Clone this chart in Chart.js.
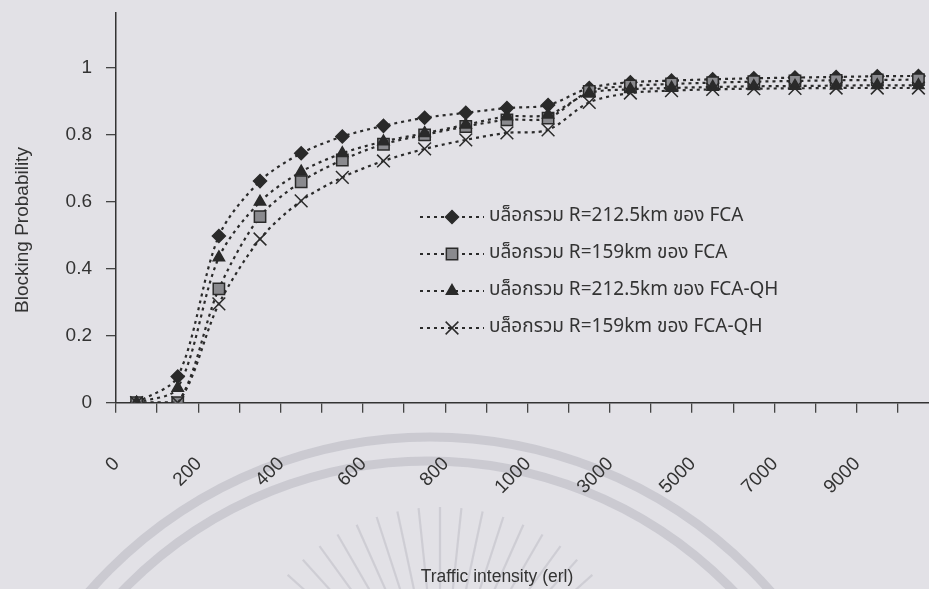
<!DOCTYPE html>
<html>
<head>
<meta charset="utf-8">
<script src="https://cdn.jsdelivr.net/npm/chart.js@4.4.1/dist/chart.umd.min.js"></script>
<style>
  html,body{margin:0;padding:0;background:#e2e1e6;overflow:hidden;}
  #wrap{position:relative;width:950px;height:589px;}
</style>
</head>
<body>
<div id="wrap"><canvas id="blockChart"></canvas></div>
<script>
// traffic load categories (erl) and the ones that get a label
const categories = ['0','100','200','300','400','500','600','700','800','900','1000',
  '2000','3000','4000','5000','6000','7000','8000','9000','10000'];
const shownTicks = ['0','200','400','600','800','1000','3000','5000','7000','9000'];

// blocking probability per scheme
const fca212 = [0, 0.078, 0.498, 0.662, 0.745, 0.795, 0.827, 0.851, 0.866, 0.880, 0.889,
  0.940, 0.957, 0.962, 0.966, 0.969, 0.971, 0.973, 0.975, 0.976];
const fca159 = [0, 0, 0.340, 0.556, 0.660, 0.725, 0.772, 0.800, 0.825, 0.845, 0.850,
  0.930, 0.946, 0.952, 0.956, 0.959, 0.961, 0.963, 0.964, 0.965];
const qh212 = [0, 0.044, 0.434, 0.600, 0.690, 0.745, 0.780, 0.805, 0.830, 0.855, 0.860,
  0.925, 0.936, 0.940, 0.943, 0.945, 0.946, 0.947, 0.948, 0.948];
const qh159 = [0, 0, 0.295, 0.489, 0.603, 0.673, 0.722, 0.758, 0.785, 0.806, 0.815,
  0.897, 0.925, 0.932, 0.936, 0.938, 0.939, 0.940, 0.940, 0.940];

const seriesNames = [
  'บล็อกรวม R=212.5km ของ FCA',
  'บล็อกรวม R=159km ของ FCA',
  'บล็อกรวม R=212.5km ของ FCA-QH',
  'บล็อกรวม R=159km ของ FCA-QH'
];

const BG = '#e2e1e6';
const INK = '#2a2a2a';
const TXT = '#333';
const FONT = '"Liberation Sans", Arial, sans-serif';

function series(label, data, style, radius, fill, order){
  return {
    label, data, order,
    borderColor: INK, borderWidth: 2.2, borderDash: [3,4],
    tension: 0.3, fill: false,
    pointStyle: style, pointRadius: radius, pointHoverRadius: radius,
    pointBackgroundColor: fill, pointBorderColor: INK, pointBorderWidth: 1.5
  };
}

// faint seal printed behind the figure
const seal = {
  id: 'seal',
  beforeDraw(chart){
    const ctx = chart.ctx;
    ctx.save();
    ctx.fillStyle = BG;
    ctx.fillRect(0, 0, chart.width, chart.height);
    ctx.strokeStyle = 'rgba(150,150,162,0.30)';
    ctx.lineWidth = 9;
    ctx.beginPath(); ctx.arc(430, 890, 453, Math.PI, Math.PI*2); ctx.stroke();
    ctx.beginPath(); ctx.arc(428, 885, 424, Math.PI, Math.PI*2); ctx.stroke();
    ctx.lineWidth = 2.2;
    ctx.strokeStyle = 'rgba(150,150,162,0.26)';
    for (let a = -156; a <= -24; a += 6) {
      const r = a * Math.PI / 180;
      ctx.beginPath();
      ctx.moveTo(440 + Math.cos(r)*100, 712 + Math.sin(r)*100);
      ctx.lineTo(440 + Math.cos(r)*205, 712 + Math.sin(r)*205);
      ctx.stroke();
    }
    ctx.restore();
  }
};

// axis titles, placed by hand
const axisTitles = {
  id: 'axisTitles',
  afterDraw(chart){
    const ctx = chart.ctx;
    ctx.save();
    ctx.fillStyle = TXT;
    ctx.textAlign = 'center';
    ctx.textBaseline = 'middle';
    ctx.font = '17.5px ' + FONT;
    ctx.fillText('Traffic intensity (erl)', 497, 577);
    ctx.translate(23, 230);
    ctx.rotate(-Math.PI / 2);
    ctx.font = '19px ' + FONT;
    ctx.fillText('Blocking Probability', 0, 0);
    ctx.restore();
  }
};

// legend drawn inside the plot, line sample + marker + label
const inlineLegend = {
  id: 'inlineLegend',
  afterDatasetsDraw(chart){
    const ctx = chart.ctx;
    const rows = [217, 254, 291, 328];
    ctx.save();
    chart.data.datasets.forEach((ds, i) => {
      const y = rows[i];
      ctx.strokeStyle = INK;
      ctx.lineWidth = 2.2;
      ctx.setLineDash([3,4]);
      ctx.beginPath(); ctx.moveTo(420, y); ctx.lineTo(484, y); ctx.stroke();
      ctx.setLineDash([]);
      ctx.fillStyle = ds.pointBackgroundColor;
      ctx.strokeStyle = INK;
      ctx.lineWidth = 1.5;
      Chart.helpers.drawPoint(ctx, {pointStyle: ds.pointStyle, radius: ds.pointRadius, borderWidth: 1.5}, 452, y);
      ctx.fillStyle = TXT;
      ctx.font = '19px "Noto Sans Thai", "Liberation Sans", sans-serif';
      ctx.textBaseline = 'middle';
      ctx.fillText(ds.label, 489, y);
    });
    ctx.restore();
  }
};

new Chart(document.getElementById('blockChart'), {
  type: 'line',
  data: {
    labels: categories,
    datasets: [
      series(seriesNames[0], fca212, 'rectRot', 6.5, INK, 3),
      series(seriesNames[1], fca159, 'rect', 8, '#8a8a8e', 2),
      series(seriesNames[2], qh212, 'triangle', 6.5, INK, 1),
      series(seriesNames[3], qh159, 'crossRot', 9, INK, 0)
    ]
  },
  options: {
    responsive: true, maintainAspectRatio: false, animation: false,
    layout: {padding: {top: 13, right: 11, left: 0, bottom: 0}},
    plugins: {legend: {display: false}, tooltip: {enabled: false}},
    scales: {
      x: {
        offset: true,
        grid: {offset: true, drawOnChartArea: false, drawTicks: true, tickLength: 10, color: '#444', lineWidth: 1.3},
        border: {color: '#333', width: 1.5},
        ticks: {
          autoSkip: false, minRotation: 45, maxRotation: 45, padding: 40, labelOffset: -20,
          color: TXT, font: {family: FONT, size: 19},
          callback: function(v){ const l = this.getLabelForValue(v); return shownTicks.includes(l) ? l : ''; }
        },
        afterFit(s){ s.height = 186.3; s.paddingLeft = 0; s.paddingRight = 0; }
      },
      y: {
        min: 0, max: 1.164,
        grid: {drawOnChartArea: false, drawTicks: true, tickLength: 10, color: '#444', lineWidth: 1.3},
        border: {color: '#333', width: 1.5},
        ticks: {stepSize: 0.2, padding: 14, color: TXT, font: {family: FONT, size: 19},
          callback: v => String(Math.round(v * 10) / 10)},
        afterBuildTicks(s){ s.ticks = s.ticks.filter(t => t.value <= 1.0001); },
        afterFit(s){ s.width = 116; s.paddingTop = 0; s.paddingBottom = 0; }
      }
    }
  },
  plugins: [seal, axisTitles, inlineLegend]
});
</script>
</body>
</html>
